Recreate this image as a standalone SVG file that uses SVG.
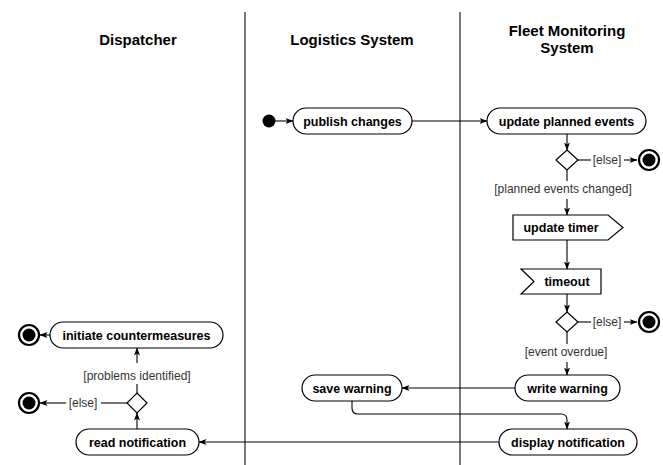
<svg xmlns="http://www.w3.org/2000/svg" width="663" height="465" viewBox="0 0 663 465">
<defs>
<marker id="ah" viewBox="0 0 8 6" refX="7.5" refY="3" markerWidth="8" markerHeight="6" markerUnits="userSpaceOnUse" orient="auto">
<path d="M0,0 L8,3 L0,6 L2,3 z" fill="#000"/>
</marker>
</defs>
<style>
.hdr{font-family:"Liberation Sans",Arial,sans-serif;font-weight:bold;font-size:15px;fill:#000;text-anchor:middle}
.nt{font-family:"Liberation Sans",Arial,sans-serif;font-weight:bold;font-size:12.5px;fill:#000;text-anchor:middle}
.lbl{font-family:"Liberation Sans",Arial,sans-serif;font-size:12px;fill:#333;text-anchor:middle}
.act{fill:#fff;stroke:#000;stroke-width:1.2}
.lane{stroke:#333;stroke-width:1.3}
.c{fill:none;stroke:#000;stroke-width:1.1}
.ca{fill:none;stroke:#000;stroke-width:1.1;marker-end:url(#ah)}
.fo{fill:#fff;stroke:#000;stroke-width:2.2}
</style>
<rect width="663" height="465" fill="#fff"/>
<g id="lanes">
<line class="lane" x1="245" y1="12" x2="245" y2="465"/>
<line class="lane" x1="460" y1="12" x2="460" y2="465"/>
<text class="hdr" x="138" y="45">Dispatcher</text>
<text class="hdr" x="352" y="45">Logistics System</text>
<text class="hdr" x="567" y="36">Fleet Monitoring</text>
<text class="hdr" x="567" y="53">System</text>
</g>
<g id="connectors">
<line class="ca" x1="275" y1="121" x2="293" y2="121"/>
<line class="ca" x1="412" y1="121" x2="487" y2="121"/>
<line class="ca" x1="567" y1="134" x2="567" y2="150"/>
<line class="c" x1="578" y1="160" x2="591" y2="160"/>
<text class="lbl" x="607" y="164">[else]</text>
<line class="ca" x1="624" y1="160" x2="637" y2="160"/>
<line class="c" x1="567" y1="170" x2="567" y2="181"/>
<text class="lbl" x="563" y="193">[planned events changed]</text>
<line class="ca" x1="567" y1="199" x2="567" y2="215"/>
<line class="ca" x1="567" y1="240" x2="567" y2="269"/>
<line class="ca" x1="567" y1="294" x2="567" y2="312"/>
<line class="c" x1="578" y1="322" x2="591" y2="322"/>
<text class="lbl" x="607" y="326">[else]</text>
<line class="ca" x1="624" y1="322" x2="637" y2="322"/>
<line class="c" x1="567" y1="332" x2="567" y2="344"/>
<text class="lbl" x="566" y="356">[event overdue]</text>
<line class="ca" x1="567" y1="362" x2="567" y2="375"/>
<line class="ca" x1="515" y1="388" x2="402" y2="388"/>
<path class="ca" d="M352,401 V408 Q352,414 358,414 H561 Q567,414 567,420 V429"/>
<line class="ca" x1="499" y1="442" x2="199" y2="442"/>
<line class="ca" x1="137" y1="429" x2="137" y2="413"/>
<line class="c" x1="127" y1="403" x2="101" y2="403"/>
<text class="lbl" x="83" y="407">[else]</text>
<line class="ca" x1="66" y1="403" x2="40" y2="403"/>
<line class="c" x1="137" y1="393" x2="137" y2="384"/>
<text class="lbl" x="137" y="380">[problems identified]</text>
<line class="ca" x1="137" y1="363" x2="137" y2="348"/>
<line class="ca" x1="50" y1="335" x2="40" y2="335"/>
</g>
<g id="start">
<circle cx="269" cy="121" r="6.5" fill="#000"/>
</g>
<g id="publish_changes">
<rect class="act" x="293" y="108" width="119" height="26" rx="13"/>
<text class="nt" x="352.5" y="125.5">publish changes</text>
</g>
<g id="update_planned_events">
<rect class="act" x="487" y="108" width="159" height="26" rx="13"/>
<text class="nt" x="566.5" y="125.5">update planned events</text>
</g>
<g id="decision1">
<polygon class="act" points="567,150 578,160 567,170 556,160"/>
</g>
<g id="final1">
<circle class="fo" cx="649" cy="160" r="10"/>
<circle cx="649" cy="160" r="6.5" fill="#000"/>
</g>
<g id="update_timer">
<polygon class="act" points="513,215 608,215 623,227.5 608,240 513,240"/>
<text class="nt" x="561" y="232">update timer</text>
</g>
<g id="timeout">
<polygon class="act" points="521,269 601,269 601,294 521,294 534,281.5"/>
<text class="nt" x="567" y="286">timeout</text>
</g>
<g id="decision2">
<polygon class="act" points="567,312 578,322 567,332 556,322"/>
</g>
<g id="final2">
<circle class="fo" cx="649" cy="322" r="10"/>
<circle cx="649" cy="322" r="6.5" fill="#000"/>
</g>
<g id="write_warning">
<rect class="act" x="515" y="375" width="105" height="26" rx="13"/>
<text class="nt" x="567.5" y="392.5">write warning</text>
</g>
<g id="save_warning">
<rect class="act" x="302" y="375" width="100" height="26" rx="13"/>
<text class="nt" x="352" y="392.5">save warning</text>
</g>
<g id="display_notification">
<rect class="act" x="499" y="429" width="138" height="26" rx="13"/>
<text class="nt" x="568" y="446.5">display notification</text>
</g>
<g id="read_notification">
<rect class="act" x="76" y="429" width="123" height="26" rx="13"/>
<text class="nt" x="137.5" y="446.5">read notification</text>
</g>
<g id="decision3">
<polygon class="act" points="137,393 147,403 137,413 127,403"/>
</g>
<g id="final3">
<circle class="fo" cx="29" cy="403" r="10"/>
<circle cx="29" cy="403" r="6.5" fill="#000"/>
</g>
<g id="initiate_countermeasures">
<rect class="act" x="50" y="322" width="173" height="26" rx="13"/>
<text class="nt" x="136.5" y="339.5">initiate countermeasures</text>
</g>
<g id="final4">
<circle class="fo" cx="29" cy="335" r="10"/>
<circle cx="29" cy="335" r="6.5" fill="#000"/>
</g>
</svg>
